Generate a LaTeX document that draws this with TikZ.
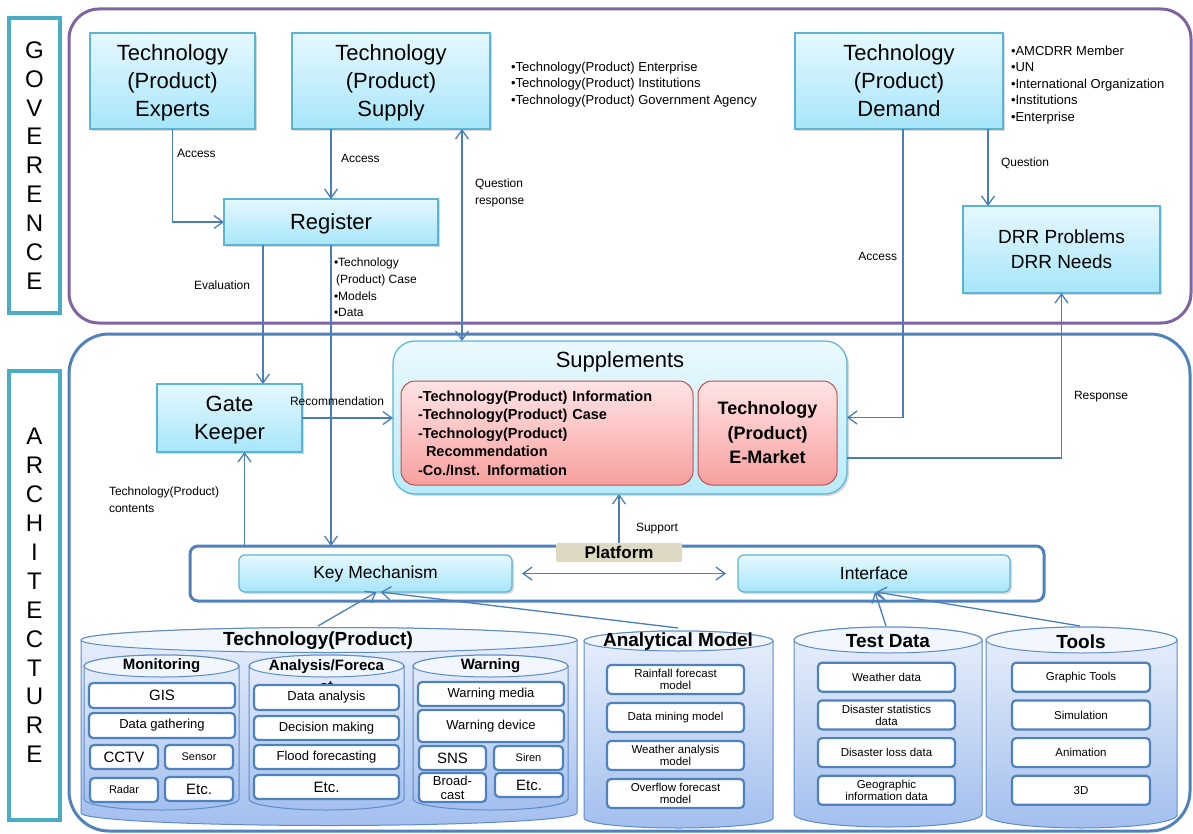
\documentclass[tikz,border=0pt]{standalone}
\usepackage{fontspec}
\setmainfont{Liberation Sans}
\usetikzlibrary{arrows.meta,shadows,calc}
\definecolor{govpurple}{HTML}{8064A2}
\definecolor{archblue}{HTML}{4F81BD}
\definecolor{labelteal}{HTML}{4BACC6}
\definecolor{linkblue}{HTML}{4A7EBB}
\definecolor{boxtop}{HTML}{E6F8FE}
\definecolor{boxbot}{HTML}{A6E6FA}
\definecolor{boxline}{HTML}{5AB4D4}
\definecolor{redtop}{HTML}{FFE4E6}
\definecolor{redbot}{HTML}{F7A09E}
\definecolor{redline}{HTML}{C0504D}
\definecolor{drumtop}{HTML}{E9F0FB}
\definecolor{drumbot}{HTML}{A3BFEE}
\definecolor{drumline}{HTML}{5E8BC9}
\definecolor{tagbeige}{HTML}{DDD9C3}

% database drum: left x, right x, top rim y, bottom rim y, rim radius
\newcommand{\drawdrum}[5]{%
  \pgfmathsetmacro\dmx{(#1+#2)/2}
  \pgfmathsetmacro\drx{(#2-#1)/2}
  \path[drumbody] (#1,#3) -- (#1,#4)
    .. controls (#1,#4+0.552*#5) and (\dmx-0.552*\drx,#4+#5) .. (\dmx,#4+#5)
    .. controls (\dmx+0.552*\drx,#4+#5) and (#2,#4+0.552*#5) .. (#2,#4)
    -- (#2,#3)
    .. controls (#2,#3-0.552*#5) and (\dmx+0.552*\drx,#3-#5) .. (\dmx,#3-#5)
    .. controls (\dmx-0.552*\drx,#3-#5) and (#1,#3-0.552*#5) .. cycle;
  \draw[drumrim] (\dmx,#3) ellipse [x radius=\drx pt, y radius=#5 pt];
}

\begin{document}
\begin{tikzpicture}[
    x=1pt, y=-1pt,
    every node/.style={inner sep=0pt, outer sep=0pt},
    techbox/.style={draw=boxline, line width=1.2pt, top color=boxtop, bottom color=boxbot,
      drop shadow={shadow xshift=2pt, shadow yshift=-2pt, opacity=0.3}, align=center},
    bigtxt/.style={font=\fontsize{22}{28}\selectfont},
    lowtext/.style={text depth=-3.5pt},
    redbox/.style={draw=redline, line width=1pt, top color=redtop, bottom color=redbot,
      rounded corners=14pt},
    itembox/.style={draw=archblue, line width=2.2pt, fill=white, rounded corners=4pt,
      align=center, font=\fontsize{13}{13}\selectfont},
    lbl/.style={font=\fontsize{12}{16.7}\selectfont, align=left},
    sidebox/.style={draw=labelteal, line width=3.5pt, align=center,
      font=\fontsize{24}{28.9}\selectfont},
    drumbody/.style={draw=drumline, line width=1pt, top color=drumtop, bottom color=drumbot},
    drumrim/.style={draw=drumline, line width=1pt, fill=drumtop!60!white},
    arr/.style={draw=linkblue, line width=1.3pt, -{Straight Barb[length=9pt,width=13pt]}},
    dbl/.style={arr, {Straight Barb[length=9pt,width=13pt]}-{Straight Barb[length=9pt,width=13pt]}}
  ]
  \useasboundingbox (0,0) rectangle (1193,834);

  % side labels and frames
  \node[sidebox, minimum width=51pt, minimum height=295pt] (govlabel) at (34.5,165.5)
    {G\\O\\V\\E\\R\\E\\N\\C\\E};
  \node[sidebox, minimum width=51pt, minimum height=449pt] (archlabel) at (34.5,595.5)
    {A\\R\\C\\H\\I\\T\\E\\C\\T\\U\\R\\E};
  \draw[govpurple, line width=3pt, rounded corners=30pt] (69,9) rectangle (1191,323);
  \draw[archblue, line width=3pt, rounded corners=40pt] (69,334) rectangle (1190,831);

  % governance layer
  \node[techbox, bigtxt, lowtext, minimum width=165pt, minimum height=96pt] (experts) at (172.5,81)
    {Technology\\(Product)\\Experts};
  \node[techbox, bigtxt, lowtext, minimum width=198pt, minimum height=96pt] (supply) at (391,81)
    {Technology\\(Product)\\Supply};
  \node[techbox, bigtxt, lowtext, minimum width=208pt, minimum height=96pt] (demand) at (899,81)
    {Technology\\(Product)\\Demand};
  \node[techbox, bigtxt, lowtext, minimum width=214pt, minimum height=46pt] (register) at (331,222)
    {Register};
  \node[techbox, lowtext, font=\fontsize{19}{25}\selectfont, minimum width=197pt, minimum height=87pt]
    (drr) at (1061.5,249.5) {DRR Problems\\DRR Needs};

  \node[lbl, anchor=north west, font=\fontsize{13}{16.5}\selectfont] (supplylist) at (511,62)
    {•Technology(Product) Enterprise\\•Technology(Product) Institutions\\•Technology(Product) Government Agency};
  \node[lbl, anchor=north west, font=\fontsize{13}{16.5}\selectfont] (demandlist) at (1011,46)
    {•AMCDRR Member\\•UN\\•International Organization\\•Institutions\\•Enterprise};

  % architecture layer
  \node[draw=boxline, line width=1.2pt, rounded corners=22pt, top color=boxtop!80!white,
    bottom color=boxbot!80!white, drop shadow={shadow xshift=2pt, shadow yshift=-2pt, opacity=0.3},
    minimum width=454pt, minimum height=153pt] (supplements) at (620,417.5) {};
  \node[font=\fontsize{22}{22}\selectfont] (suptitle) at (620,362) {Supplements};
  \node[redbox, minimum width=292pt, minimum height=104pt, text width=258pt, align=left,
    font=\bfseries\fontsize{14.5}{18.5}\selectfont] (infobox) at (547,433)
    {-Technology(Product) Information\\-Technology(Product) Case\\-Technology(Product)\\
     \hspace*{8pt}Recommendation\\-Co./Inst. Information};
  \node[redbox, minimum width=139pt, minimum height=104pt, align=center,
    font=\bfseries\fontsize{18}{24.5}\selectfont] (emarket) at (767.5,433)
    {Technology\\(Product)\\E-Market};

  \node[techbox, bigtxt, lowtext, minimum width=145pt, minimum height=68pt] (gate) at (229.5,418)
    {Gate\\Keeper};

  \node[draw=archblue, line width=3pt, rounded corners=8pt, fill=white,
    minimum width=854pt, minimum height=55pt] (platform) at (617,573.5) {};
  \node[fill=tagbeige, rounded corners=2pt, minimum width=126pt, minimum height=19pt,
    font=\bfseries\fontsize{17}{17}\selectfont] (ptag) at (619,552.5) {Platform};
  \node[techbox, rounded corners=6pt, minimum width=273pt, minimum height=37pt,
    font=\fontsize{17.5}{20}\selectfont] (keymech) at (375.5,573.5) {Key Mechanism};
  \node[techbox, rounded corners=6pt, minimum width=272pt, minimum height=37pt,
    font=\fontsize{17.5}{20}\selectfont] (interface) at (874,573.5) {Interface};

  % technology (product) store
  \drawdrum{81}{577}{640}{813}{12.5}
  \node[font=\bfseries\fontsize{19}{19}\selectfont] (techtitle) at (318,641) {Technology(Product)};
  \drawdrum{84}{239}{666}{799}{11}
  \drawdrum{249}{404}{666}{799}{11}
  \drawdrum{413}{568}{666}{799}{11}
  \node[font=\bfseries\fontsize{15}{15}\selectfont] (montitle) at (161.5,666) {Monitoring};
  \node[anchor=north, align=center, font=\bfseries\fontsize{15}{21}\selectfont] (anatitle)
    at (326.5,660) {Analysis/Foreca\\st};
  \node[font=\bfseries\fontsize{15}{15}\selectfont] (warntitle) at (490.5,666) {Warning};

  \node[itembox, minimum width=146pt, minimum height=25pt, font=\fontsize{15}{15}\selectfont]
    (gis) at (162,695.5) {GIS};
  \node[itembox, minimum width=146pt, minimum height=25pt] (gather) at (162,725.5) {Data gathering};
  \node[itembox, minimum width=68pt, minimum height=24pt, font=\fontsize{15}{15}\selectfont]
    (cctv) at (124,757) {CCTV};
  \node[itembox, minimum width=68pt, minimum height=24pt, font=\fontsize{11}{11}\selectfont]
    (sensor) at (199,757) {Sensor};
  \node[itembox, minimum width=68pt, minimum height=24pt, font=\fontsize{11}{11}\selectfont]
    (radar) at (124,790) {Radar};
  \node[itembox, minimum width=68pt, minimum height=24pt, font=\fontsize{15}{15}\selectfont]
    (monetc) at (199,789) {Etc.};

  \node[itembox, minimum width=145pt, minimum height=25pt] (dataana) at (326.5,697.5) {Data analysis};
  \node[itembox, minimum width=145pt, minimum height=24pt] (decision) at (326.5,728) {Decision making};
  \node[itembox, minimum width=145pt, minimum height=24pt] (flood) at (326.5,757) {Flood forecasting};
  \node[itembox, minimum width=145pt, minimum height=24pt, font=\fontsize{15}{15}\selectfont]
    (anaetc) at (326.5,787) {Etc.};

  \node[itembox, minimum width=146pt, minimum height=24pt] (wmedia) at (491,694) {Warning media};
  \node[itembox, minimum width=146pt, minimum height=32pt] (wdevice) at (491,726) {Warning device};
  \node[itembox, minimum width=67pt, minimum height=24pt, font=\fontsize{15}{15}\selectfont]
    (sns) at (452.5,758) {SNS};
  \node[itembox, minimum width=69pt, minimum height=24pt, font=\fontsize{11}{11}\selectfont]
    (siren) at (528.5,758) {Siren};
  \node[itembox, minimum width=67pt, minimum height=29pt, font=\fontsize{13}{14}\selectfont]
    (broad) at (452.5,787.5) {Broad-\\cast};
  \node[itembox, minimum width=68pt, minimum height=24pt, font=\fontsize{15}{15}\selectfont]
    (warnetc) at (529,785) {Etc.};

  % model, data and tool stores
  \drawdrum{584}{773}{641}{818}{10}
  \drawdrum{794}{982}{640}{814}{13}
  \drawdrum{986}{1177}{640}{815}{13}
  \node[font=\bfseries\fontsize{19}{19}\selectfont] (modeltitle) at (678,642) {Analytical Model};
  \node[font=\bfseries\fontsize{19}{19}\selectfont] (testtitle) at (888,641) {Test Data};
  \node[font=\bfseries\fontsize{19}{19}\selectfont] (tooltitle) at (1081,642) {Tools};

  \foreach \txt [count=\k] in {{Rainfall forecast\\model},{Data mining model},
      {Weather analysis\\model},{Overflow forecast\\model}}
    \node[itembox, font=\fontsize{11.5}{12}\selectfont, minimum width=137pt, minimum height=29pt]
      (model\k) at (675.5,641.5+38*\k) {\txt};
  \foreach \txt [count=\k] in {{Weather data},{Disaster statistics\\data},
      {Disaster loss data},{Geographic\\information data}}
    \node[itembox, font=\fontsize{11.5}{12}\selectfont, minimum width=137pt, minimum height=29pt]
      (test\k) at (886.5,639.5+37.7*\k) {\txt};
  \foreach \txt [count=\k] in {{Graphic Tools},{Simulation},{Animation},{3D}}
    \node[itembox, font=\fontsize{11.5}{12}\selectfont, minimum width=138pt, minimum height=29pt]
      (tool\k) at (1081,639.5+37.7*\k) {\txt};

  % connectors
  \coordinate (qresp) at (462,0);
  \coordinate (evalx) at (263,0);
  \coordinate (askx) at (988,0);
  \coordinate (contx) at (244.5,0);
  \coordinate (techtop) at (318,626);
  \coordinate (modeltop) at (678,628);
  \coordinate (testtop) at (886,626);
  \coordinate (tooltop) at (1080,626);

  \draw[arr] (experts.south) |- (register.west);
  \draw[arr] (register.north |- supply.south) -- (register.north);
  \draw[dbl] (supply.south -| qresp) -- (supplements.north -| qresp);
  \draw[arr] ([xshift=4pt]demand.south) |- (supplements.east);
  \draw[arr] (demand.south -| askx) -- (drr.north -| askx);
  \draw[arr] ([yshift=-40.5pt]supplements.east) -| (drr.south);
  \draw[arr] (register.south -| evalx) -- (gate.north -| evalx);
  \draw[arr] (register.south) -- (register.south |- platform.north);
  \draw[arr] (gate.east) -- (gate.east -| supplements.west);
  \draw[arr] (platform.north -| contx) -- (gate.south -| contx);
  \draw[arr] (ptag.north) -- (ptag.north |- supplements.south);
  \draw[dbl] ([xshift=10pt]keymech.east) -- ([xshift=-12pt]interface.west);
  \draw[arr] (techtop) -- ([xshift=1pt]keymech.south);
  \draw[arr] (modeltop) -- ([xshift=5pt]keymech.south);
  \draw[arr] (testtop) -- ([xshift=1pt]interface.south);
  \draw[arr] (tooltop) -- ([xshift=2pt]interface.south);

  % connector labels
  \node[lbl, anchor=base west] (acc1) at (177,158) {Access};
  \node[lbl, anchor=base west] (acc2) at (341,163) {Access};
  \node[lbl, anchor=north west] (qrlbl) at (475,179) {Question\\response};
  \node[lbl, anchor=base west] (evallbl) at (194,289) {Evaluation};
  \node[lbl, anchor=north west] (caselbl) at (334,258)
    {•Technology\\\hspace*{2pt}(Product) Case\\•Models\\•Data};
  \node[lbl, anchor=base east] (acc3) at (897,261) {Access};
  \node[lbl, anchor=base west] (asklbl) at (1001,167) {Question};
  \node[lbl, anchor=base west] (resplbl) at (1074,399) {Response};
  \node[lbl, anchor=base west] (reclbl) at (290,405) {Recommendation};
  \node[lbl, anchor=north west] (contlbl) at (109,487) {Technology(Product)\\contents};
  \node[lbl, anchor=base west] (suplbl) at (636,531) {Support};
\end{tikzpicture}
\end{document}
